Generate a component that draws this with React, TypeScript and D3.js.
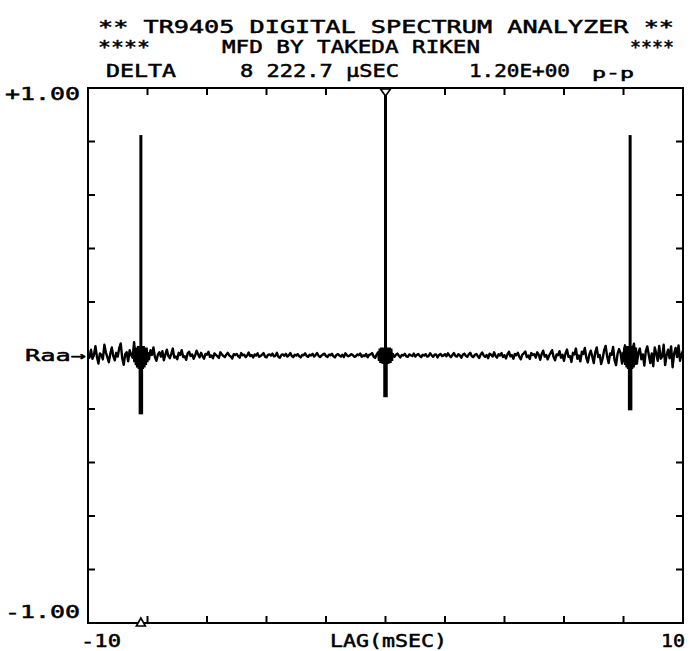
import React from "react";
import * as d3 from "d3";

// ---- data ----
const LAG_MIN = -10;
const LAG_MAX = 10;
const LAG_STEP = 0.05;
// Raa baseline trace (thousandths), lag -10 .. +10 step 0.05 ms
const raaTrace: number[] = [
  4, -8, 22, -12, 3, 35, -5, -30, 8, 2, -14, 40, 12, -6, -25, 6, 30, -2, -18, 10,
  -4, 28, 45, -10, -35, 5, 12, -22, 20, 2, -8, 50, -15, -40, 18, 6, 25, -30, -5, 22,
  8, -14, 20, 2, 30, -6, -20, 4, 12, -4, 16, -18, 3, 22, -2, -10, 6, 26, -8, -4,
  -14, 10, 2, 20, -6, -3, -16, 8, 14, -2, 4, -12, 0, 18, 5, -7, 10, -3, -12, 6,
  3, 14, -5, 0, -10, 8, 2, -3, -9, 12, 4, -2, -6, 3, 10, 0, -4, -11, 5, 2,
  6, -3, -8, 9, 1, 3, -6, 0, 11, -2, 2, -7, 4, 0, 8, -5, -2, 3, 9, -4,
  -7, 2, 4, 0, 7, -3, -1, 10, -5, -8, 2, 4, -1, 6, -4, 1, 9, -2, -6, 3,
  0, 5, -3, -7, 2, 1, 8, -2, -5, 3, 0, 6, -4, 2, 9, -1, -6, 0, 4, 7,
  -2, -6, 3, 1, 6, -3, -7, 2, 5, 0, -4, 3, -6, 8, 1, -3, 0, 5, 2, -5,
  -3, 4, 1, 7, -5, 0, -2, 6, -7, 2, 4, 9, -4, -9, 3, 12, -6, -14, 10, 16,
  0,
  14, -12, -6, 8, 2, -5, 3, 7, -1, -7, 2, 0, 6, -3, -5, 4, 1, -2, 7, -4,
  2, 6, -1, -6, 3, 0, 5, -4, -2, 8, 1, -5, 3, 4, -7, 2, 6, -2, 0, 5,
  -3, 8, 0, -6, 2, 9, -2, -4, 5, 0, -8, 3, 7, -1, -5, 4, 10, -3, -6, 2,
  6, -2, -9, 4, 11, 0, -5, 2, -10, 7, 3, -4, 12, -2, -8, 5, 0, 9, -6, 1,
  -11, 4, 14, -3, 2, -12, 6, 1, 10, -5, -14, 3, 8, 15, -6, 0, -13, 9, 2, 5,
  -8, 12, 3, -16, 6, 18, -4, 2, -14, 0, 10, 20, -6, -18, 4, 1, 16, -8, 3, -20,
  8, 22, -5, -2, -24, 10, 4, 26, -12, 0, -22, 14, 6, 28, -8, -26, 3, 18, -4, -28,
  12, 30, -6, 2, -32, -10, 20, 36, -4, -28, 8, 2, 32, -18, -36, 6, 24, 10, -30, 4,
  38, -8, -22, 6, -42, 20, 44, -6, -30, 12, 26, -14, 4, -38, 16, 34, 2, -28, 8, -40,
  30, 8, -20, 36, -12, -4, 40, -36, 2, 22, -10, 34, -44, 6, 28, -6, 38, -20, 4, 18,
];

// periodic peaks (DELTA = 8 222.7 µs)
const spikeLags = [-8.2227, 0, 8.2227];
const spikeTops = [0.824, 1.0, 0.824];
const spikeBottoms = [-0.22, -0.156, -0.205];

// dense oscillation around each peak (offset ms, value)
const burstOffsets = [
  -0.25, -0.225, -0.2, -0.175, -0.15, -0.125, -0.1, -0.075, -0.05, -0.025, 0,
  0.025, 0.05, 0.075, 0.1, 0.125, 0.15, 0.175, 0.2, 0.225, 0.25,
];
const centerBurst = [
  0.01, -0.02, 0.026, -0.028, 0.03, -0.03, 0.03, -0.032, 0.03, -0.032, 0.03,
  -0.032, 0.03, -0.032, 0.03, -0.03, 0.03, -0.028, 0.026, -0.02, 0.01,
];
const sideBurst = [
  0.012, -0.025, 0.03, -0.035, 0.03, -0.045, 0.035, -0.05, 0.035, -0.055, 0.035,
  -0.055, 0.035, -0.05, 0.035, -0.045, 0.03, -0.035, 0.03, -0.025, 0.012,
];

const xTicks = [-8, -6, -4, -2, 0, 2, 4, 6, 8];
const yTicks = [-0.8, -0.6, -0.4, -0.2, 0, 0.2, 0.4, 0.6, 0.8];

const titleLines = [
  "** TR9405 DIGITAL SPECTRUM ANALYZER **",
  "****",
  "MFD BY TAKEDA RIKEN",
  "****",
];
const deltaLabel = "DELTA";
const deltaValue = "8 222.7 µSEC";
const ampValue = "1.20E+00";
const ampUnit = "p-p";
const yTopLabel = "+1.00";
const yBottomLabel = "-1.00";
const xLeftLabel = "-10";
const xRightLabel = "10";
const xAxisTitle = "LAG(mSEC)";
const seriesLabel = "Raa→";

export default function App() {
  const W = 690;
  const H = 651;
  const x = d3.scaleLinear().domain([LAG_MIN, LAG_MAX]).range([88, 683]);
  const y = d3.scaleLinear().domain([-1, 1]).range([623, 88]);

  const traceData = raaTrace.map((v, i) => [LAG_MIN + i * LAG_STEP, v / 1000] as [number, number]);
  const line = d3
    .line<[number, number]>()
    .x((d) => x(d[0]))
    .y((d) => y(d[1]));

  const font = "'DejaVu Sans Mono', monospace";
  const tickLen = 7;

  const txt = (s: string, x0: number, x1: number, base: number, size = 17) => (
    <text
      x={x0}
      y={base}
      textLength={x1 - x0}
      lengthAdjust="spacingAndGlyphs"
      fontFamily={font}
      fontWeight="normal"
      fontSize={size}
      fill="#000"
      stroke="#000"
      strokeWidth={0.5}
    >
      {s}
    </text>
  );

  return (
    <div style={{ position: "absolute", left: 0, top: 0 }}>
      <svg width={W} height={H} viewBox={`0 0 ${W} ${H}`} style={{ display: "block", background: "#fff" }}>
        <rect x={0} y={0} width={W} height={H} fill="#fff" />
        {/* header */}
        {txt(titleLines[0], 98, 674, 33)}
        {txt(titleLines[1], 98, 150, 53)}
        {txt(titleLines[2], 222, 480, 53)}
        {txt(titleLines[3], 630, 674, 53)}
        {txt(deltaLabel, 106, 176, 77)}
        {txt(deltaValue, 240, 399, 77)}
        {txt(ampValue, 469, 570, 77)}
        {txt(ampUnit, 592, 634, 78, 14)}

        {/* frame */}
        <rect x={x(LAG_MIN)} y={y(1)} width={x(LAG_MAX) - x(LAG_MIN)} height={y(-1) - y(1)} fill="none" stroke="#000" strokeWidth={2} />
        {xTicks.map((t) => (
          <g key={"xt" + t}>
            <line x1={x(t)} x2={x(t)} y1={y(1)} y2={y(1) + tickLen} stroke="#000" strokeWidth={2} />
            <line x1={x(t)} x2={x(t)} y1={y(-1)} y2={y(-1) - tickLen} stroke="#000" strokeWidth={2} />
          </g>
        ))}
        {yTicks.map((t) => (
          <g key={"yt" + t}>
            <line x1={x(LAG_MIN)} x2={x(LAG_MIN) + tickLen} y1={y(t)} y2={y(t)} stroke="#000" strokeWidth={2} />
            <line x1={x(LAG_MAX)} x2={x(LAG_MAX) - tickLen} y1={y(t)} y2={y(t)} stroke="#000" strokeWidth={2} />
          </g>
        ))}

        {/* trace */}
        <path d={line(traceData) || ""} fill="none" stroke="#000" strokeWidth={2.4} strokeLinejoin="round" />
        {spikeLags.map((lag, k) => {
          const vals = k === 1 ? centerBurst : sideBurst;
          const pts = burstOffsets.map((o, j) => [lag + o, vals[j]] as [number, number]);
          return (
            <g key={"sp" + k}>
              <path d={line(pts) || ""} fill="none" stroke="#000" strokeWidth={2} />
              <line x1={x(lag)} x2={x(lag)} y1={y(spikeTops[k])} y2={y(0)} stroke="#000" strokeWidth={3} />
              <line x1={x(lag)} x2={x(lag)} y1={y(0)} y2={y(spikeBottoms[k])} stroke="#000" strokeWidth={4.5} />
            </g>
          );
        })}

        {/* markers */}
        <path
          d={`M${x(0) - 5},${y(1) + 1} L${x(0) + 5},${y(1) + 1} L${x(0)},${y(1) + 8} Z`}
          fill="#fff"
          stroke="#000"
          strokeWidth={1.6}
        />
        <path
          d={`M${x(spikeLags[0]) - 4.5},${y(-1) + 3} L${x(spikeLags[0]) + 4.5},${y(-1) + 3} L${x(spikeLags[0])},${y(-1) - 5} Z`}
          fill="#fff"
          stroke="#000"
          strokeWidth={1.6}
        />

        {/* axis labels */}
        {txt(yTopLabel, 5, 80, 100)}
        {txt(yBottomLabel, 5, 80, 618)}
        {txt(seriesLabel, 25, 86, 361, 16)}
        {txt(xLeftLabel, 81, 121, 647)}
        {txt(xAxisTitle, 330, 447, 647)}
        {txt(xRightLabel, 661, 685, 647)}
      </svg>
    </div>
  );
}
